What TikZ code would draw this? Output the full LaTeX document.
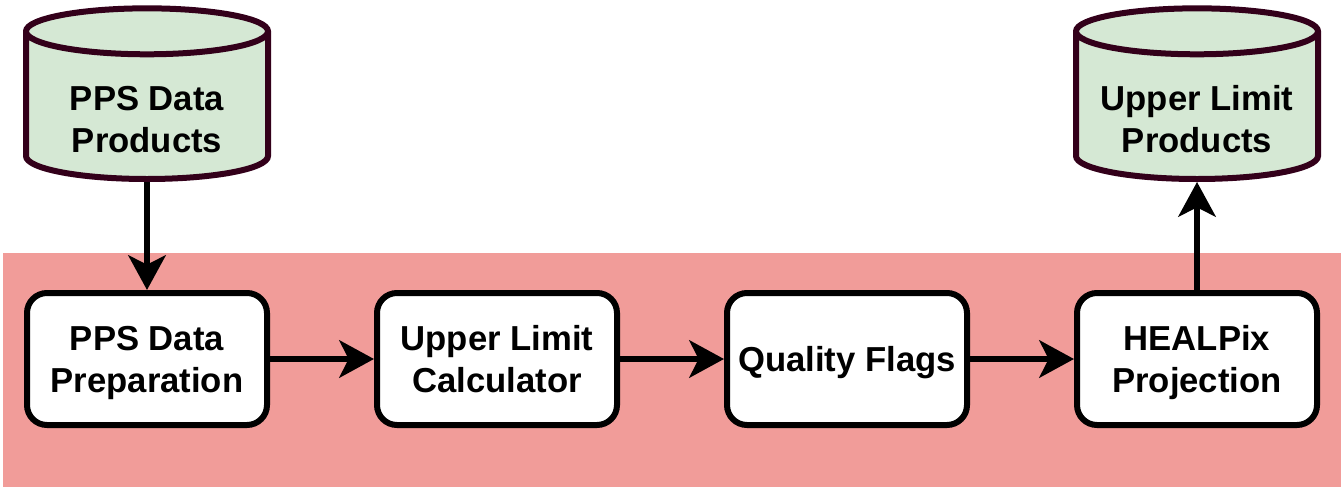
\documentclass[tikz,border=0pt]{standalone}
\usepackage{fontspec}
\setmainfont{Liberation Sans}
\usetikzlibrary{positioning,shapes.geometric,arrows.meta}

\definecolor{bandred}{HTML}{F19C99}
\definecolor{storegreen}{HTML}{D5E8D4}
\definecolor{storeline}{HTML}{33001A}

\begin{document}
\begin{tikzpicture}[x=0.75pt,y=-0.75pt,node distance=78pt,
    stage/.style={draw, line width=4.5pt, fill=white, rounded corners=15pt,
        minimum width=180pt, minimum height=99pt, align=center, text depth=-8pt,
        font=\fontsize{26}{31.5}\selectfont\bfseries},
    store/.style={cylinder, shape border rotate=90, aspect=0.22, draw=storeline,
        fill=storegreen, line width=4.5pt, text width=150pt,
        minimum width=181.5pt, minimum height=128pt},
    storetext/.style={anchor=center, yshift=47pt, align=center,
        font=\fontsize{26}{31.5}\selectfont\bfseries},
    flow/.style={line width=4.5pt, -{Stealth[length=26pt, width=28pt, inset=7pt]}}]
        \useasboundingbox (0,0) rectangle (1344,489);
        \fill[bandred] (3,253) rectangle (1341,487);

        \node[stage] (prep) at (147,359) {PPS Data\\Preparation};
        \node[stage, right=of prep] (calc) {Upper Limit\\Calculator};
        \node[stage, right=of calc] (flags) {Quality Flags};
        \node[stage, right=of flags] (proj) {HEALPix\\Projection};

        \node[store, above=81pt of prep,
            label={[storetext]south:{PPS Data\\Products}}] (ppsprod) {};
        \node[store, above=81pt of proj,
            label={[storetext]south:{Upper Limit\\Products}}] (ulprod) {};

        \draw[flow] (ppsprod.south) -- (prep.north);
        \draw[flow] (prep.east) -- (calc.west);
        \draw[flow] (calc.east) -- (flags.west);
        \draw[flow] (flags.east) -- (proj.west);
        \draw[flow] (proj.north) -- (ulprod.south);
    \end{tikzpicture}
\end{document}
